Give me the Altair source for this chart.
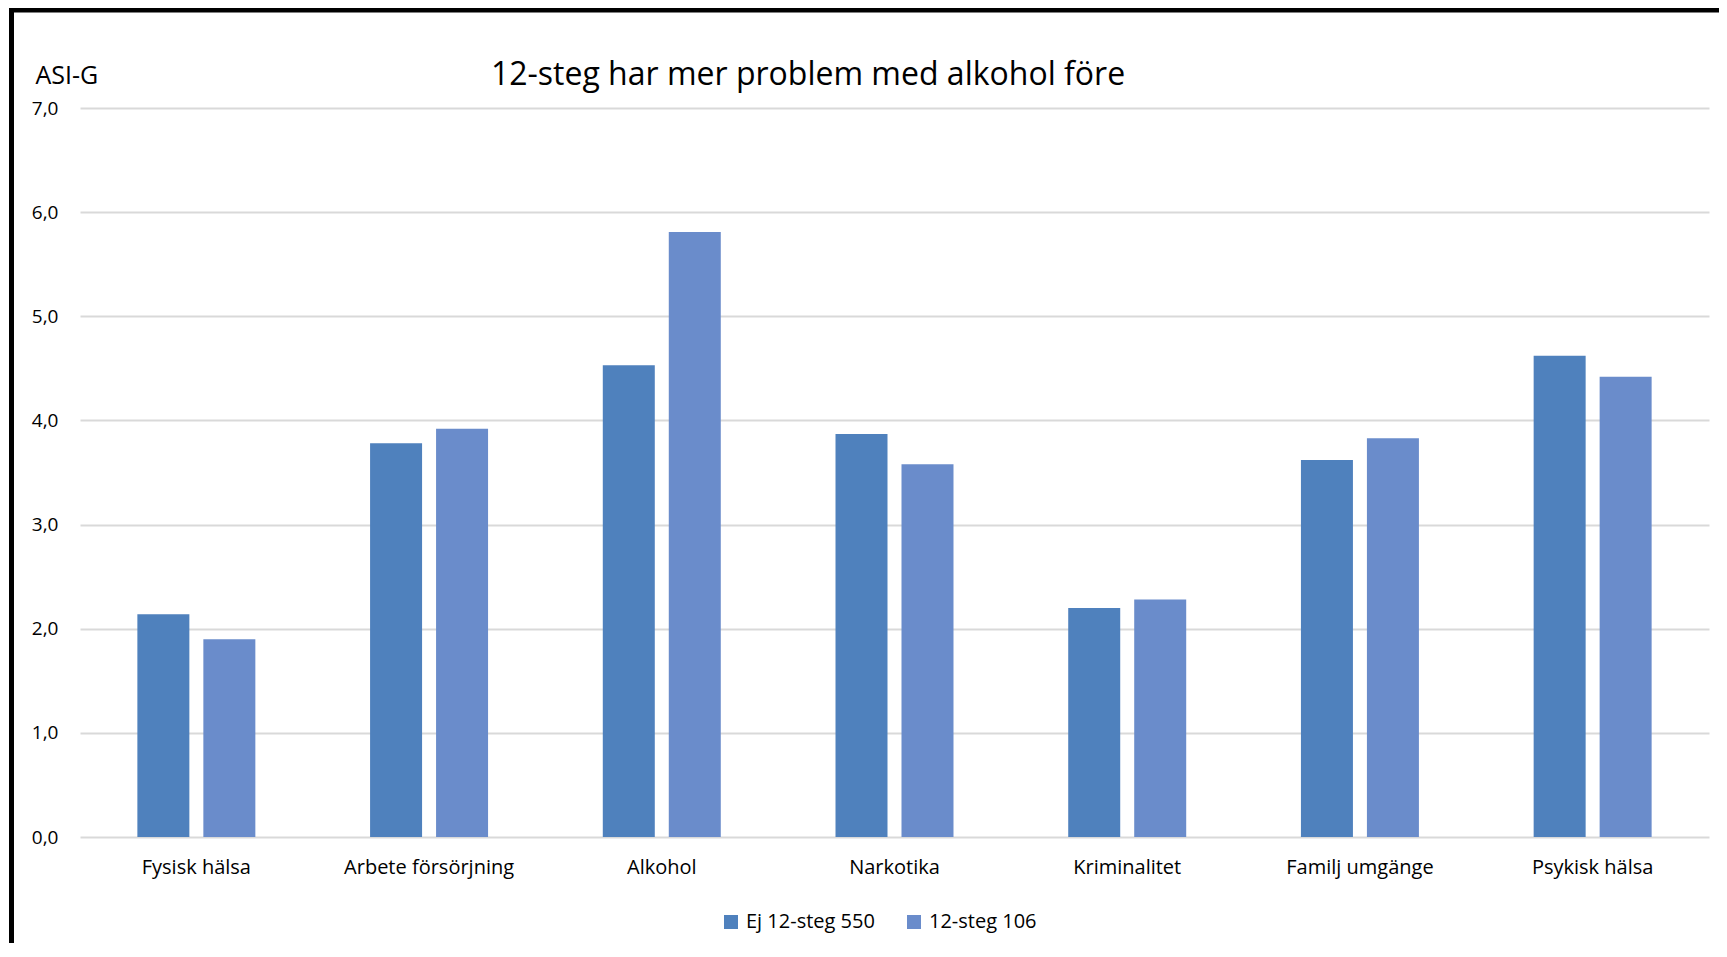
import altair as alt
import pandas as pd

categories = ["Fysisk hälsa", "Arbete försörjning", "Alkohol", "Narkotika",
              "Kriminalitet", "Familj umgänge", "Psykisk hälsa"]
ej_12_steg = [2.14, 3.78, 4.53, 3.87, 2.20, 3.62, 4.62]
steg_12 = [1.90, 3.92, 5.81, 3.58, 2.28, 3.83, 4.42]
series = ["Ej 12-steg 550", "12-steg 106"]
colors = ["#4f81bd", "#6a8ccb"]
y_ticks = [0, 1, 2, 3, 4, 5, 6, 7]
title_text = "12-steg har mer problem med alkohol före"

rows = []
for c, a, b in zip(categories, ej_12_steg, steg_12):
    rows.append({"kategori": c, "grupp": series[0], "varde": a})
    rows.append({"kategori": c, "grupp": series[1], "varde": b})
df = pd.DataFrame(rows)

FONT = "Open Sans"
W, H = 1629, 729
PAD_L, PAD_T, PAD_R, PAD_B = 72, 100, 10, 106

bars = alt.Chart(df).mark_bar().encode(
    x=alt.X("kategori:N", sort=categories,
            scale=alt.Scale(paddingInner=0.493, paddingOuter=0.2465),
            axis=alt.Axis(title=None, labelAngle=0, labelFontSize=20, labelPadding=20,
                          domain=False, ticks=False, labelColor="#000", labelFont=FONT)),
    xOffset=alt.XOffset("grupp:N", sort=series,
                        scale=alt.Scale(paddingInner=0.212, paddingOuter=0)),
    y=alt.Y("varde:Q", scale=alt.Scale(domain=[0, 7], nice=False),
            axis=alt.Axis(values=y_ticks, title="ASI-G", titleAngle=0, titleAlign="left",
                          titleBaseline="alphabetic", titleX=-45, titleY=-25,
                          titleFontSize=25, titleFontWeight="normal", titleFont=FONT,
                          titleColor="#000",
                          labelExpr="replace(format(datum.value, '.1f'), '.', ',')",
                          labelFontSize=19, labelPadding=22, labelColor="#000", labelFont=FONT,
                          domain=False, ticks=False, grid=True, gridColor="#d9d9d9",
                          gridWidth=2)),
    color=alt.Color("grupp:N", sort=series,
                    scale=alt.Scale(domain=series, range=colors),
                    legend=alt.Legend(title=None, orient="none", legendX=641, legendY=804,
                                      direction="horizontal", symbolType="square",
                                      symbolSize=196, symbolStrokeWidth=0,
                                      labelFontSize=20, labelFont=FONT, labelColor="#000",
                                      columnPadding=29, labelOffset=5)),
)

one = pd.DataFrame({"k": [0]})
top_border = alt.Chart(one).mark_rule(color="#000", strokeWidth=5).encode(
    x=alt.value(-PAD_L + 1), x2=alt.value(W + PAD_R), y=alt.value(-PAD_T + 2))
left_border = alt.Chart(one).mark_rule(color="#000", strokeWidth=5).encode(
    x=alt.value(-PAD_L + 3.5), y=alt.value(-PAD_T - 1), y2=alt.value(H + PAD_B))
title = alt.Chart(pd.DataFrame({"t": [title_text]})).mark_text(
    font=FONT, fontSize=32, color="#000", align="center", baseline="alphabetic"
).encode(text="t:N", x=alt.value(728), y=alt.value(-23))

chart = alt.layer(bars, top_border, left_border, title).properties(
    width=W, height=H,
    padding={"left": PAD_L, "top": PAD_T, "right": PAD_R, "bottom": PAD_B},
    autosize=alt.AutoSizeParams(type="none"),
).configure(background="white").configure_view(stroke=None)

chart.save("out.html", embed_options={"renderer": "svg", "actions": False})
